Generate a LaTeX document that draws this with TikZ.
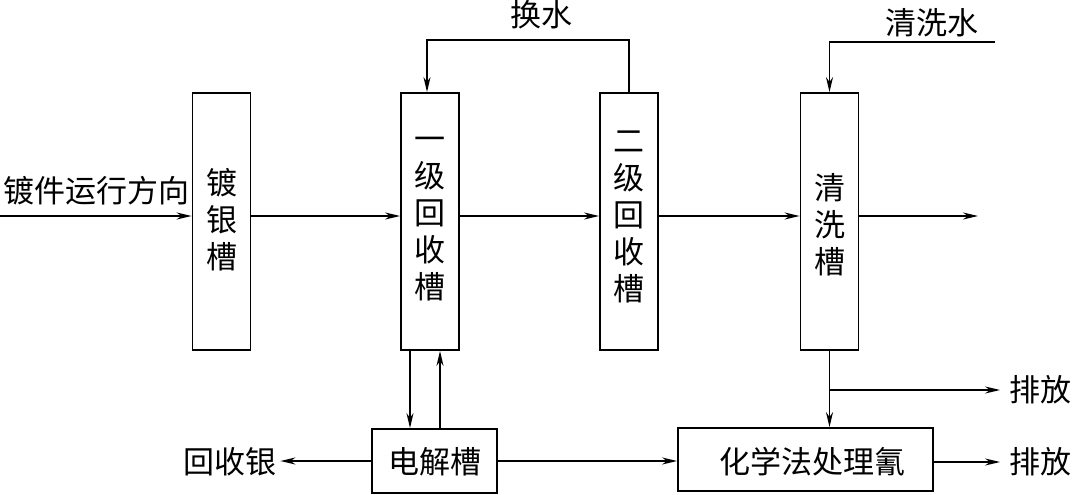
\documentclass[tikz,border=0pt]{standalone}
\usepackage{fontspec}
\newfontfamily\cjk{Noto Sans CJK SC}
\usetikzlibrary{arrows.meta,calc}
\begin{document}
\begin{tikzpicture}[x=1pt,y=-1pt, line width=1.8pt,
  >={Stealth[length=15pt,width=7pt]},
  box/.style={draw,rectangle,inner sep=0pt,line width=1.8pt},
  tank/.style={box,minimum width=58pt,minimum height=257pt},
  txt/.style={font=\cjk\fontsize{31}{37}\selectfont, inner sep=0pt, align=center}]
\useasboundingbox (0,0) rectangle (1072,495);

% boxes
\node[tank] (plate) at (221.5,221.5) {};
\node[tank] (r1) at (430,221.5) {};
\node[tank] (r2) at (629,221.5) {};
\node[tank] (wash) at (829.5,221.5) {};
\node[box,minimum width=125pt,minimum height=64pt] (elec) at (434.5,461) {};
\node[box,minimum width=255pt,minimum height=63pt] (chem) at (805.5,459.5) {};

% texts
\node[txt] (tplate) at (222,220) {镀\\银\\槽};
\node[txt] (tr1) at (430,219) {一\\级\\回\\收\\槽};
\node[txt] (tr2) at (629,217) {二\\级\\回\\收\\槽};
\node[txt] (twash) at (830,225) {清\\洗\\槽};
\node[txt] (telec) at (435,462) {电解槽};
\node[txt] (tchem) at (812,462) {化学法处理氰};
\node[txt] (dir) at (97,191) {镀件运行方向};
\node[txt] (recag) at (230,462) {回收银};
\node[txt] (swap) at (541,15) {换水};
\node[txt] (wwater) at (932,23) {清洗水};
\node[txt] (out1) at (1040,390) {排放};
\node[txt] (out2) at (1040,462) {排放};

% main line
\coordinate (start) at (0,216);
\coordinate (end) at (978,216);
\draw[->] (start) -- (plate.west |- start);
\draw[->] (plate.east |- start) -- (r1.west |- start);
\draw[->] (r1.east |- start) -- (r2.west |- start);
\draw[->] (r2.east |- start) -- (wash.west |- start);
\draw[->] (wash.east |- start) -- (end);

% water exchange
\coordinate (swapL) at (427,40);
\draw[->] (r2.north) -- (r2.north |- swapL) -- (swapL) -- (r1.north -| swapL);

% wash water
\coordinate (wwR) at (995,42);
\draw[->] (wwR) -- (wash.north |- wwR) -- (wash.north);

% recovery tank <-> electrolysis
\coordinate (dn) at (410,0);
\coordinate (up) at (440,0);
\draw[->] (r1.south -| dn) -- (elec.north -| dn);
\draw[->] (elec.north -| up) -- (r1.south -| up);

% electrolysis outputs
\draw[->,shorten >=3pt] (elec.west) -- (recag.east |- elec.west);
\draw[->] (elec.east) -- (chem.west |- elec.east);

% wash -> chem and discharge
\coordinate (br) at (829.5,390);
\draw[->] (wash.south) -- (chem.north -| wash.south);
\draw[->,shorten >=8pt] (br) -- (out1.west);
\draw[->,shorten >=8pt] (chem.east |- out2) -- (out2.west);
\end{tikzpicture}
\end{document}
